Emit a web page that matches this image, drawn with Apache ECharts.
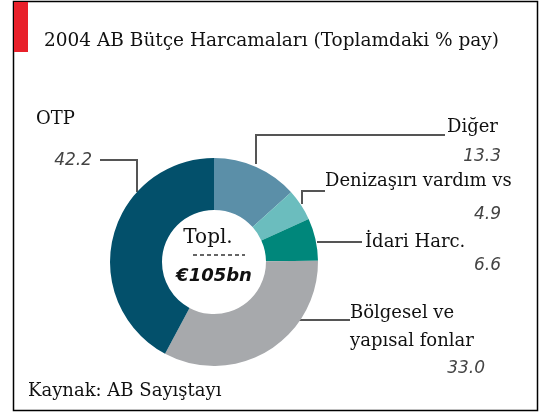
<!DOCTYPE html>
<html><head><meta charset="utf-8">
<script src="https://cdn.jsdelivr.net/npm/echarts@6/dist/echarts.min.js"></script>
<style>html,body{margin:0;padding:0;background:#fff}#c{width:541px;height:412px}</style>
</head><body><div id="c"></div>
<script>
const title = '2004 AB Bütçe Harcamaları (Toplamdaki % pay)';
const source = 'Kaynak: AB Sayıştayı';
const categories = ['Diğer', 'Denizaşırı vardım vs', 'İdari Harc.', 'Bölgesel ve\nyapısal fonlar', 'OTP'];
const values = [13.3, 4.9, 6.6, 33.0, 42.2];
const totalLabel = ['Topl.', '€105bn'];

const colors = ['#5b8fa8', '#6bbdbe', '#00877b', '#a7a9ac', '#03506b'];
// label layout: [nameX, nameY, valueX(right), valueY, nameAlign]
const labelPos = [
  [447, 127, 501, 157, 'left'],
  [325, 181, 501, 215, 'left'],
  [365, 242, 501, 266, 'left'],
  [350, 313, 485, 369, 'left'],
  [36, 119, 92, 161, 'left']
];
const leaders = [
  [[445,135],[256,135],[256,164]],
  [[325,191],[302,191],[302,204]],
  [[362,242],[317,242]],
  [[350,320],[292,320]],
  [[100,160],[137,160],[137,192]]
];
const serif = '"DejaVu Serif", serif';
const sans = '"DejaVu Sans", sans-serif';

const graphic = [
  {type:'rect', shape:{x:13.5,y:1.5,width:524,height:409}, style:{fill:'none', stroke:'#000', lineWidth:1.5}, z:10},
  {type:'rect', shape:{x:14,y:2,width:14,height:50}, style:{fill:'#e8202a'}, z:11},
  {type:'text', x:44, y:41, style:{text:title, font:'18.5px '+serif, fill:'#111', verticalAlign:'middle'}},
  {type:'text', x:28, y:391, style:{text:source, font:'18px '+serif, fill:'#111', verticalAlign:'middle'}},
  {type:'text', x:208, y:238, style:{text:totalLabel[0], font:'20px '+serif, fill:'#111', align:'center', verticalAlign:'middle'}, z:20},
  {type:'line', shape:{x1:193,y1:255,x2:245,y2:255}, style:{stroke:'#333', lineWidth:1.5, lineDash:[4,3]}, z:20},
  {type:'text', x:214, y:276, style:{text:totalLabel[1], font:'italic bold 18px '+sans, fill:'#111', align:'center', verticalAlign:'middle'}, z:20}
];
categories.forEach((c, i) => {
  const p = labelPos[i];
  const lines = c.split('\n');
  lines.forEach((t, k) => {
    graphic.push({type:'text', x:p[0], y:p[1] + k*28, style:{text:t, font:'18px '+serif, fill:'#111', align:p[4], verticalAlign:'middle'}});
  });
  graphic.push({type:'text', x:p[2], y:p[3], style:{text:values[i].toFixed(1), font:'italic 17px '+sans, fill:'#444', align:'right', verticalAlign:'middle'}});
  graphic.push({type:'polyline', shape:{points:leaders[i]}, style:{stroke:'#555', lineWidth:2, fill:null}});
});

const chart = echarts.init(document.getElementById('c'), null, {renderer:'canvas'});
chart.setOption({
  backgroundColor:'#fff',
  animation:false,
  series:[{
    type:'pie',
    center:[214, 262],
    radius:[52, 104],
    startAngle:90,
    clockwise:true,
    label:{show:false},
    labelLine:{show:false},
    itemStyle:{borderWidth:0},
    emphasis:{disabled:true},
    data: categories.map((c,i)=>({name:c, value:values[i], itemStyle:{color:colors[i]}}))
  }],
  graphic: graphic
});
</script></body></html>
